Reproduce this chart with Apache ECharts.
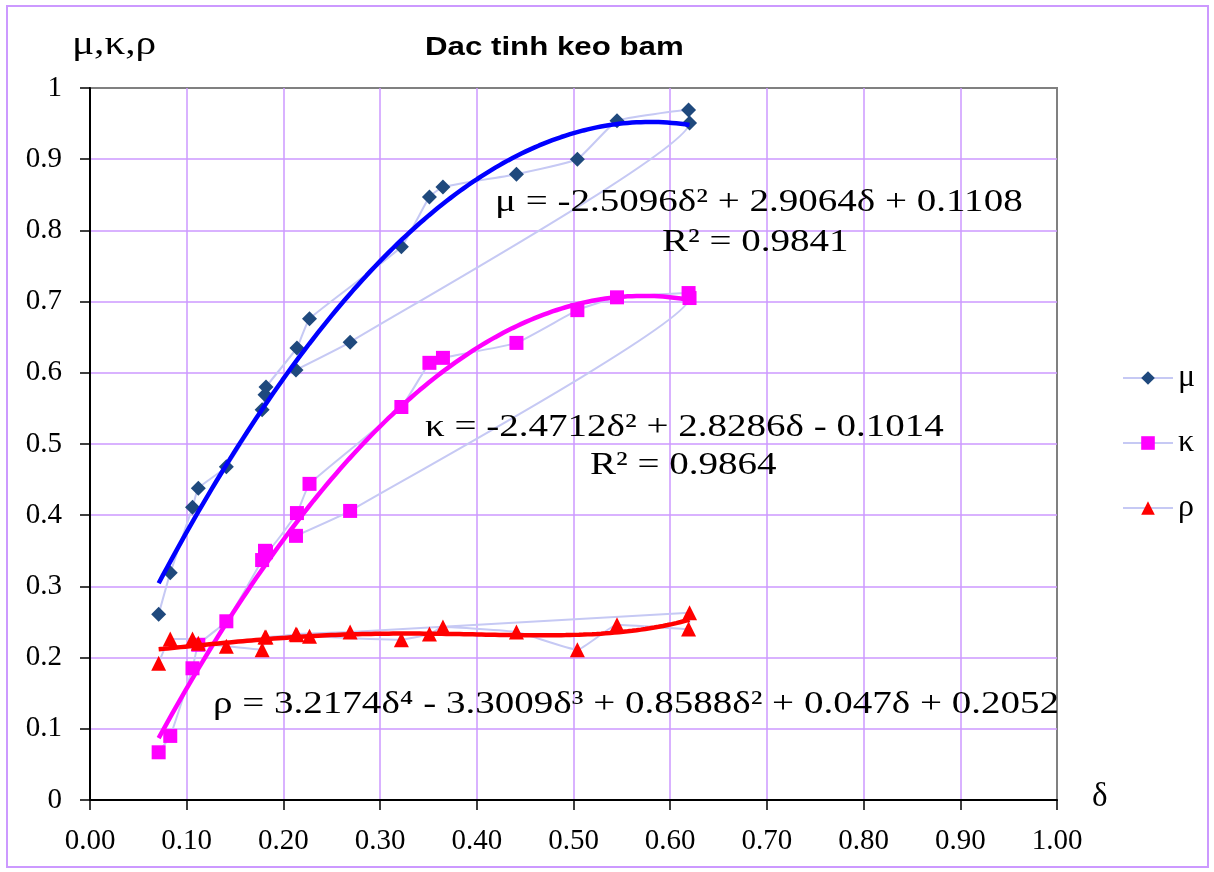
<!DOCTYPE html>
<html>
<head>
<meta charset="utf-8">
<title>Dac tinh keo bam</title>
<script src="https://cdn.jsdelivr.net/npm/echarts@6/dist/echarts.min.js"></script>
<style>
html, body { margin: 0; padding: 0; background: #fff; }
#chart { width: 1214px; height: 872px; }
</style>
</head>
<body>
<div id="chart"></div>
<script>
// so lieu doc tu hinh, giu dung thu tu noi diem cua bang goc
var delta = [0.071, 0.083, 0.106, 0.112, 0.141, 0.178, 0.181, 0.182, 0.214, 0.227,
             0.322, 0.351, 0.365, 0.441, 0.504, 0.545, 0.619, 0.620, 0.269, 0.213];
var mu    = [0.261, 0.319, 0.411, 0.438, 0.468, 0.548, 0.569, 0.580, 0.635, 0.676,
             0.777, 0.847, 0.861, 0.879, 0.900, 0.954, 0.969, 0.951, 0.643, 0.604];
var kappa = [0.067, 0.090, 0.185, 0.218, 0.251, 0.337, 0.350, 0.348, 0.403, 0.444,
             0.552, 0.614, 0.621, 0.642, 0.688, 0.706, 0.712, 0.705, 0.406, 0.371];
var rho   = [0.192, 0.226, 0.226, 0.220, 0.216, 0.211, 0.229, 0.229, 0.232, 0.230,
             0.225, 0.233, 0.243, 0.236, 0.211, 0.246, 0.240, 0.263, 0.236, 0.233];

// he so duong xu huong (bac cao -> hang so), lay tu phuong trinh tren hinh
var muCoef    = [-2.5096, 2.9064, 0.1108];
var kappaCoef = [-2.4712, 2.8286, -0.1014];
var rhoCoef   = [3.2174, -3.3009, 0.8588, 0.047, 0.2052];

var seriesNames = ['μ', 'κ', 'ρ'];

var serif = 'Liberation Serif';
var gridColor = '#CC99FF';
var joinColor = '#C6C9F4';

function pairs(xs, ys) {
    var out = [];
    for (var i = 0; i < xs.length; i++) {
        out.push([xs[i], ys[i]]);
    }
    return out;
}

// ve duong xu huong theo he so
function trend(coef, x0, x1) {
    var out = [];
    var n = 120;
    for (var i = 0; i <= n; i++) {
        var x = x0 + (x1 - x0) * i / n;
        var y = 0;
        for (var k = 0; k < coef.length; k++) {
            y = y * x + coef[k];
        }
        out.push([x, y]);
    }
    return out;
}

var xMin = Math.min.apply(null, delta);
var xMax = Math.max.apply(null, delta);

function eqText(str, x, y) {
    return {
        type: 'text',
        x: x, y: y,
        scaleX: 1.22,
        z: 100,
        style: {
            text: str,
            font: '32px "' + serif + '"',
            fill: '#000',
            textAlign: 'left',
            textVerticalAlign: 'middle'
        }
    };
}

var chart = echarts.init(document.getElementById('chart'));

var option = {
    backgroundColor: '#fff',
    animation: false,
    grid: {
        left: 90, right: 157, top: 88, bottom: 72,
        show: true,
        borderColor: '#808080',
        borderWidth: 2
    },
    legend: {
        data: seriesNames,
        orient: 'vertical',
        left: 1117,
        top: 356,
        itemWidth: 50,
        itemHeight: 17,
        itemGap: 31,
        textStyle: { fontFamily: serif, fontSize: 32, color: '#000', lineHeight: 34 }
    },
    xAxis: {
        type: 'value',
        min: 0, max: 1, interval: 0.1,
        axisLine: { show: true, onZero: false, lineStyle: { color: '#000', width: 2 } },
        axisTick: { show: true, length: 10, lineStyle: { color: '#000', width: 1.5 } },
        axisLabel: {
            formatter: function (v) { return v.toFixed(2); },
            fontFamily: serif, fontSize: 29, color: '#000', margin: 27
        },
        splitLine: { show: true, showMinLine: false, showMaxLine: false, lineStyle: { color: gridColor, width: 1.5 } }
    },
    yAxis: {
        type: 'value',
        min: 0, max: 1, interval: 0.1,
        axisLine: { show: true, onZero: false, lineStyle: { color: '#000', width: 2 } },
        axisTick: { show: true, length: 10, lineStyle: { color: '#000', width: 1.5 } },
        axisLabel: { fontFamily: serif, fontSize: 29, color: '#000', margin: 28 },
        splitLine: { show: true, showMinLine: false, showMaxLine: false, lineStyle: { color: gridColor, width: 1.5 } }
    },
    series: [
        {
            name: 'μ', type: 'line', data: pairs(delta, mu),
            smooth: 0.12, symbol: 'diamond', symbolSize: 15,
            lineStyle: { color: joinColor, width: 2 },
            itemStyle: { color: '#1F497D' }, z: 2
        },
        {
            name: 'κ', type: 'line', data: pairs(delta, kappa),
            smooth: 0.12, symbol: 'rect', symbolSize: 14,
            lineStyle: { color: joinColor, width: 2 },
            itemStyle: { color: '#FF00FF' }, z: 2
        },
        {
            name: 'ρ', type: 'line', data: pairs(delta, rho),
            smooth: 0.12, symbol: 'triangle', symbolSize: 15,
            lineStyle: { color: joinColor, width: 2 },
            itemStyle: { color: '#FF0000' }, z: 2
        },
        {
            name: 'trend μ', type: 'line', data: trend(muCoef, xMin, xMax),
            symbol: 'none', silent: true,
            lineStyle: { color: '#0000FF', width: 4.5 }, z: 3
        },
        {
            name: 'trend κ', type: 'line', data: trend(kappaCoef, xMin, xMax),
            symbol: 'none', silent: true,
            lineStyle: { color: '#FF00FF', width: 4.5 }, z: 3
        },
        {
            name: 'trend ρ', type: 'line', data: trend(rhoCoef, xMin, xMax),
            symbol: 'none', silent: true,
            lineStyle: { color: '#FF0000', width: 4.5 }, z: 3
        }
    ],
    graphic: [
        {
            type: 'rect', z: -1, silent: true,
            shape: { x: 7, y: 6, width: 1201, height: 861 },
            style: { fill: null, stroke: gridColor, lineWidth: 2 }
        },
        {
            type: 'text', x: 425, y: 48, scaleX: 1.25, z: 100,
            style: {
                text: 'Dac tinh keo bam',
                font: 'bold 25px "Liberation Sans"',
                fill: '#000', textAlign: 'left', textVerticalAlign: 'middle'
            }
        },
        {
            type: 'text', x: 72, y: 45, scaleX: 1.25, z: 100,
            style: {
                text: 'μ,κ,ρ', font: '33px "' + serif + '"',
                fill: '#000', textAlign: 'left', textVerticalAlign: 'middle'
            }
        },
        {
            type: 'text', x: 1092, y: 797, z: 100,
            style: {
                text: 'δ', font: '33px "' + serif + '"',
                fill: '#000', textAlign: 'left', textVerticalAlign: 'middle'
            }
        },
        eqText('μ = -2.5096δ² + 2.9064δ + 0.1108', 495, 203),
        eqText('R² = 0.9841', 662, 243),
        eqText('κ = -2.4712δ² + 2.8286δ - 0.1014', 425, 428),
        eqText('R² = 0.9864', 590, 466),
        eqText('ρ = 3.2174δ⁴ - 3.3009δ³ + 0.8588δ² + 0.047δ + 0.2052', 213, 705)
    ]
};

chart.setOption(option);
</script>
</body>
</html>
